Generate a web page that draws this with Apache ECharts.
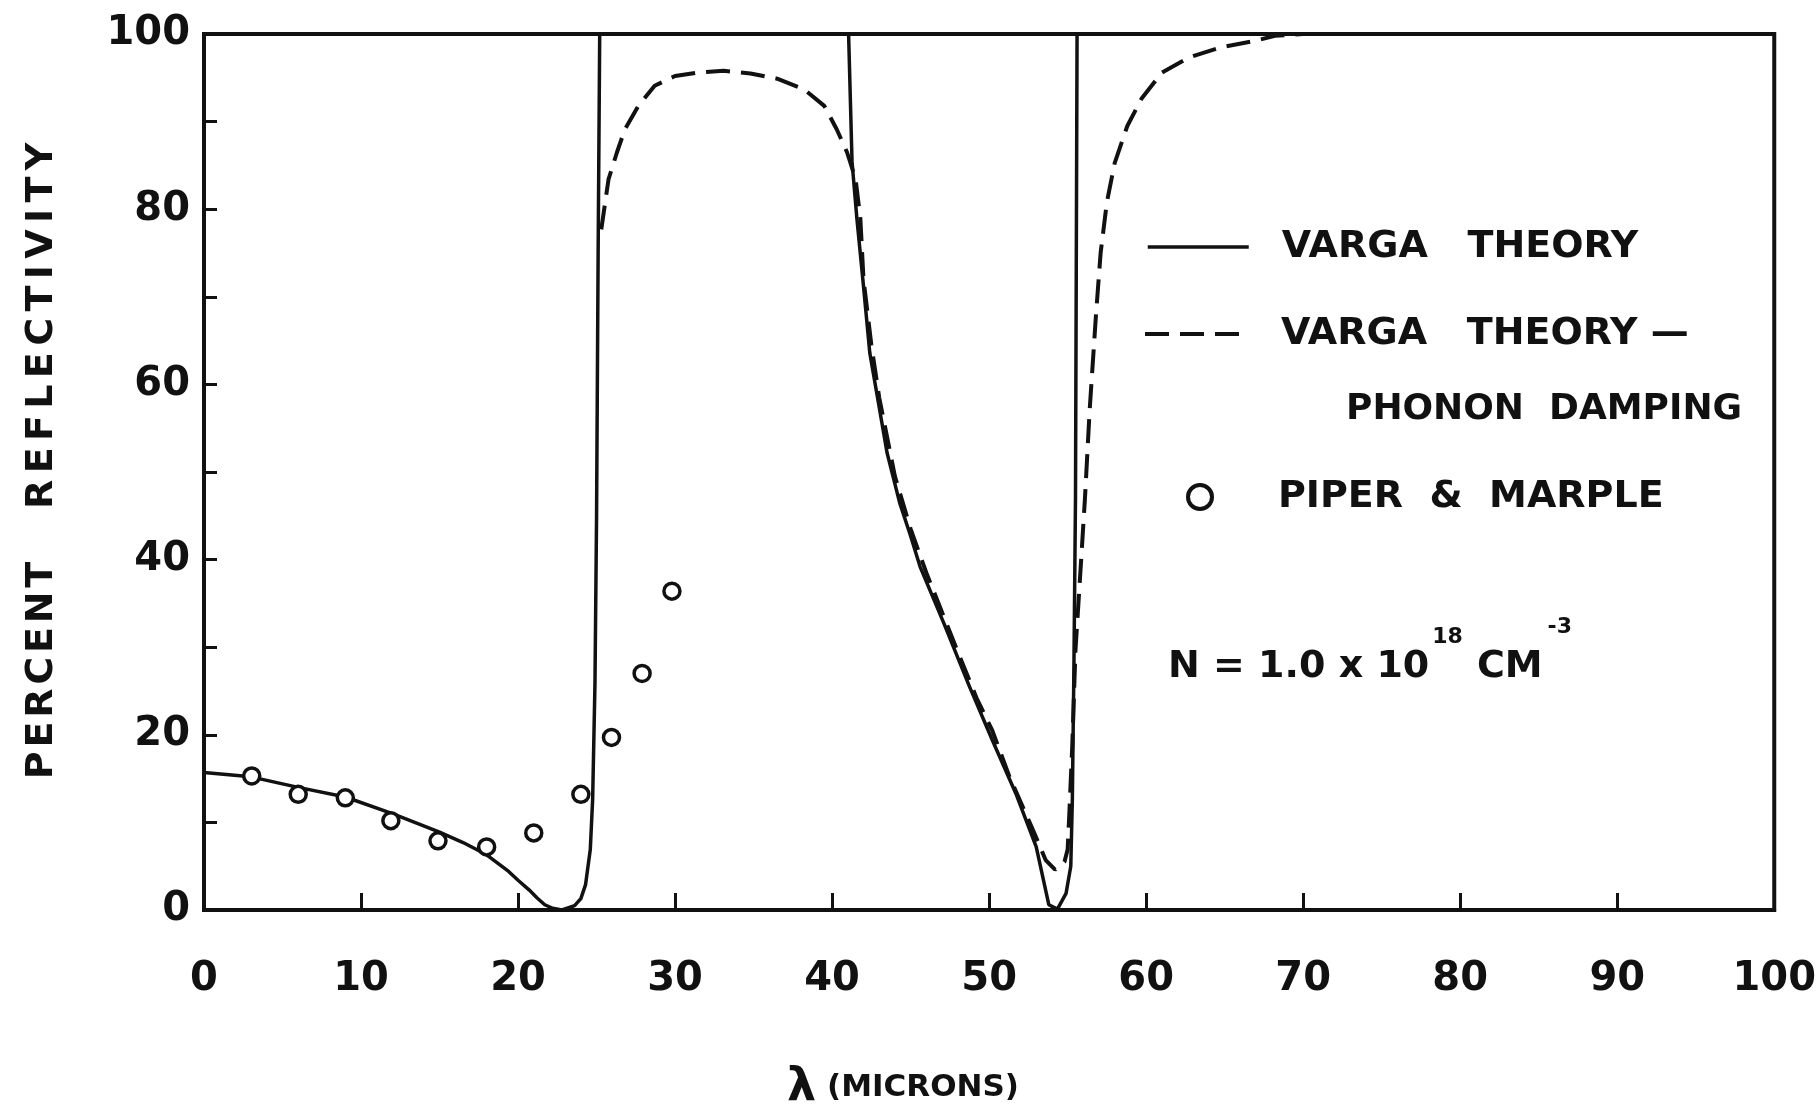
<!DOCTYPE html>
<html>
<head>
<meta charset="utf-8">
<script src="https://cdn.jsdelivr.net/npm/echarts@6/dist/echarts.min.js"></script>
<style>
  html, body { margin: 0; padding: 0; background: #fff; }
  #chart { width: 1819px; height: 1114px; }
</style>
</head>
<body>
<div id="chart"></div>
<script>
// wavelength (microns) / percent reflectivity
const solidX = [0, 3, 6, 9, 12, 15, 16.5, 18, 19.4, 20.0, 20.7, 21.2, 21.7, 22.2, 22.8, 23.6, 24.0, 24.3, 24.6,
  24.75, 24.9, 25.0, 25.1, 25.2,
  41.05, 41.27, 41.58, 42.0, 42.4, 42.95, 43.5, 44.3, 45.0, 45.6, 47.1, 48.75, 50.2, 51.7, 53.0, 53.8, 54.35,
  54.9, 55.2, 55.3, 55.4, 55.5, 55.6, 100];
const solidY = [15.7, 15.2, 14.0, 12.9, 11.0, 8.9, 7.7, 6.3, 4.4, 3.4, 2.3, 1.4, 0.6, 0.2, 0, 0.5, 1.3, 2.9, 6.9,
  12.6, 26, 45, 75, 100,
  100, 85.4, 78.9, 71.2, 63.6, 57.9, 52.2, 46.5, 42.7, 39.2, 32.8, 25.5, 19.4, 13.3, 7.2, 0.6, 0.1,
  1.9, 5, 12.6, 27.8, 47, 100, 100];

const dampedX = [25.3, 25.76, 26.3, 26.8, 27.66, 28.7, 30.0, 31.5, 33.1, 34.8, 36.5, 38.2, 39.5, 40.3, 40.95,
  41.5, 41.8, 42.0, 42.5, 43.0, 44.0, 45.0, 46.0, 47.0, 48.0, 49.2, 50.2, 51.3, 52.8, 53.6, 54.2, 54.8, 55.0,
  55.1, 55.3, 55.5, 55.7, 55.9, 56.1, 56.4, 56.8, 57.1, 57.5, 58.0, 58.8, 59.7, 61.0, 62.7, 64.8, 66.9, 68.2, 70];
const dampedY = [77.7, 83.4, 86.5, 89.1, 91.8, 94.1, 95.2, 95.6, 95.8, 95.5, 94.9, 93.7, 91.8, 89.1, 86.5,
  83.4, 78.9, 72, 64.5, 58.5, 49.5, 43.5, 38.5, 34, 29.5, 24.2, 20.5, 15.2, 9.1, 5.7, 4.6, 5.5, 6.9,
  10.7, 19, 29.7, 35.4, 41.1, 46.9, 57, 67.8, 75, 80.8, 85.3, 89.5, 92.6, 95.6, 97.3, 98.5, 99.2, 99.8, 100];

const piperX = [3.04, 6.0, 9.0, 11.9, 14.9, 18.0, 21.0, 24.0, 25.95, 27.9, 29.8];
const piperY = [15.3, 13.2, 12.8, 10.2, 7.9, 7.2, 8.8, 13.2, 19.7, 27.0, 36.4];

const xTicks = { min: 0, max: 100, step: 10 };
const yTicks = { min: 0, max: 100, step: 10, labelStep: 20 };

const zip = (xs, ys) => xs.map((x, i) => [x, ys[i]]);

const INK = '#111';
const FONT = 'DejaVu Sans';

const chart = echarts.init(document.getElementById('chart'));

const legendText = {
  color: INK,
  fontFamily: FONT,
  fontWeight: 'bold',
  fontSize: 38
};
// hide the dot ECharts puts in the middle of a line-series legend icon
const noDot = { color: 'transparent', borderColor: 'transparent', borderWidth: 0 };

// Leroy-style lettering is spaced wider than DejaVu, pad with thin spaces
const spread = (s, sp) => s.split('').join(sp);

const option = {
  backgroundColor: '#fff',
  animation: false,
  grid: {
    left: 204,
    right: 38,
    top: 34,
    bottom: 204,
    show: true,
    borderColor: INK,
    borderWidth: 4,
    backgroundColor: 'transparent'
  },
  xAxis: {
    type: 'value',
    min: xTicks.min,
    max: xTicks.max,
    interval: xTicks.step,
    axisLine: { lineStyle: { color: INK, width: 4 } },
    axisTick: { inside: true, length: 17, lineStyle: { color: INK, width: 3 } },
    axisLabel: { color: INK, fontFamily: FONT, fontWeight: 'bold', fontSize: 40, margin: 50 },
    splitLine: { show: false }
  },
  yAxis: {
    type: 'value',
    min: yTicks.min,
    max: yTicks.max,
    interval: yTicks.step,
    axisLine: { show: true, lineStyle: { color: INK, width: 4 } },
    axisTick: { show: true, inside: true, length: 13, lineStyle: { color: INK, width: 3 } },
    axisLabel: {
      color: INK, fontFamily: FONT, fontWeight: 'bold', fontSize: 40, margin: 14,
      formatter: (v) => (v % yTicks.labelStep === 0 ? String(v) : '')
    },
    splitLine: { show: false }
  },
  legend: [
    {
      data: ['VARGA THEORY'],
      left: 1146, top: 228,
      itemWidth: 101, itemHeight: 20, padding: 0,
      selectedMode: false,
      itemStyle: noDot,
      lineStyle: { width: 3.5 },
      formatter: () => 'VARGA   THEORY',
      textStyle: Object.assign({ padding: [0, 0, 0, 28] }, legendText)
    },
    {
      data: ['VARGA THEORY — PHONON DAMPING'],
      left: 1143, top: 315,
      itemWidth: 104, itemHeight: 20, padding: 0,
      selectedMode: false,
      itemStyle: noDot,
      lineStyle: { width: 4 },
      formatter: () => 'VARGA   THEORY —',
      textStyle: Object.assign({ padding: [0, 0, 0, 27] }, legendText)
    },
    {
      data: ['PIPER & MARPLE'],
      left: 1186, top: 478,
      itemWidth: 24, itemHeight: 26, padding: 0,
      selectedMode: false,
      itemStyle: { color: '#fff', borderColor: INK, borderWidth: 4, opacity: 1 },
      formatter: () => 'PIPER  &  MARPLE',
      textStyle: Object.assign({ padding: [0, 0, 0, 61] }, legendText)
    }
  ],
  graphic: [
    {
      type: 'text', left: 1346, top: 392,
      style: { text: 'PHONON  DAMPING', fill: INK, font: 'bold 36px "DejaVu Sans"' }
    },
    {
      type: 'text', left: 1168, top: 616,
      style: {
        text: '{b|N = 1.0 x 10}{s|18}{b|CM}{t|-3}',
        rich: {
          b: { fontFamily: FONT, fontWeight: 'bold', fontSize: 38, fill: INK, verticalAlign: 'bottom', lineHeight: 42 },
          s: { fontFamily: FONT, fontWeight: 'bold', fontSize: 22, fill: INK, verticalAlign: 'bottom',
               lineHeight: 24, padding: [0, 14, 38, 3] },
          t: { fontFamily: FONT, fontWeight: 'bold', fontSize: 22, fill: INK, verticalAlign: 'bottom',
               lineHeight: 24, padding: [0, 2, 48, 5] }
        }
      }
    },
    {
      type: 'text', x: 42, y: 461, rotation: Math.PI / 2,
      style: {
        text: spread('PERCENT', '\u200A') + '    ' + spread('REFLECTIVITY', '\u2006'),
        fill: INK,
        font: 'bold 38px "DejaVu Sans"', align: 'center', verticalAlign: 'middle'
      }
    },
    {
      type: 'text', x: 903, y: 1088,
      style: {
        text: '{l|λ}{m| (MICRONS)}',
        align: 'center', verticalAlign: 'middle',
        rich: {
          l: { fontFamily: FONT, fontWeight: 'bold', fontSize: 46, fill: INK, verticalAlign: 'middle' },
          m: { fontFamily: FONT, fontWeight: 'bold', fontSize: 31, fill: INK, verticalAlign: 'middle' }
        }
      }
    }
  ],
  series: [
    {
      name: 'VARGA THEORY',
      type: 'line',
      data: zip(solidX, solidY),
      symbol: 'none',
      color: INK,
      lineStyle: { color: INK, width: 3.5 },
      z: 3
    },
    {
      name: 'VARGA THEORY — PHONON DAMPING',
      type: 'line',
      data: zip(dampedX, dampedY),
      symbol: 'none',
      color: INK,
      lineStyle: { color: INK, width: 4, type: [24, 11] },
      z: 4
    },
    {
      name: 'PIPER & MARPLE',
      type: 'scatter',
      data: zip(piperX, piperY),
      symbol: 'circle',
      symbolSize: 16,
      itemStyle: { color: '#fff', borderColor: INK, borderWidth: 3.5, opacity: 1 },
      z: 5
    }
  ]
};

chart.setOption(option);
</script>
</body>
</html>
